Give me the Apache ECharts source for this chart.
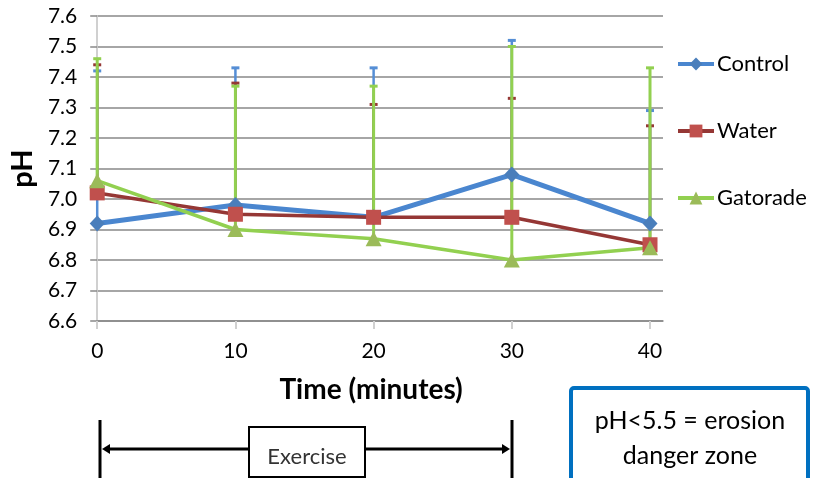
<!DOCTYPE html>
<html>
<head>
<meta charset="utf-8">
<script src="https://cdn.jsdelivr.net/npm/echarts@6/dist/echarts.min.js"></script>
<style>
html,body{margin:0;padding:0;background:#fff;}
#chart{width:815px;height:478px;}
</style>
</head>
<body>
<div id="chart"></div>
<script>
// ---- data ----
var times = [0, 10, 20, 30, 40];
var seriesNames = ['Control', 'Water', 'Gatorade'];
var controlPH = [6.92, 6.98, 6.94, 7.08, 6.92];
var waterPH = [7.02, 6.95, 6.94, 6.94, 6.85];
var gatoradePH = [7.06, 6.90, 6.87, 6.80, 6.84];
// upper end of error bars (mean + error)
var controlTop = [7.42, 7.43, 7.43, 7.52, 7.29];
var waterTop = [7.44, 7.38, 7.31, 7.33, 7.24];
var gatoradeTop = [7.46, 7.37, 7.37, 7.50, 7.43];
var yTicks = [6.6, 6.7, 6.8, 6.9, 7.0, 7.1, 7.2, 7.3, 7.4, 7.5, 7.6];
var xTicks = [0, 10, 20, 30, 40];

var FONT = 'Lato';
var means = [controlPH, waterPH, gatoradePH];
var tops = [controlTop, waterTop, gatoradeTop];
var lineColors = ['#4A86CF', '#953735', '#92D050'];
var markerColors = ['#4A7EBB', '#C0504D', '#9BBB59'];
var errColors = ['#558ED5', '#953735', '#92D050'];
var symbols = ['diamond', 'rect', 'triangle'];
var symbolSizes = [[15, 16], 15, [16, 15]];
var lineWidths = [5, 3.5, 3.5];

function pairs(arr) { return times.map(function (t, i) { return [t, arr[i]]; }); }

var series = [];
// error bars (drawn below lines)
means.forEach(function (m, s) {
  series.push({
    type: 'custom',
    z: 1,
    silent: true,
    data: times.map(function (t, i) { return [t, m[i], tops[s][i]]; }),
    renderItem: function (params, api) {
      var x = api.value(0);
      var p0 = api.coord([x, api.value(1)]);
      var p1 = api.coord([x, api.value(2)]);
      var st = { stroke: errColors[s], lineWidth: s === 2 ? 3 : 2.5 };
      return {
        type: 'group',
        children: [
          { type: 'line', shape: { x1: p0[0], y1: p0[1], x2: p1[0], y2: p1[1] }, style: st },
          { type: 'line', shape: { x1: p1[0] - 4, y1: p1[1], x2: p1[0] + 4, y2: p1[1] }, style: { stroke: errColors[s], lineWidth: 3 } }
        ]
      };
    }
  });
});
means.forEach(function (m, s) {
  series.push({
    name: seriesNames[s],
    type: 'line',
    z: 2,
    data: pairs(m),
    symbol: symbols[s],
    symbolSize: symbolSizes[s],
    showAllSymbol: true,
    lineStyle: { color: lineColors[s], width: lineWidths[s] },
    itemStyle: { color: markerColors[s], borderWidth: 0 },
    emphasis: { disabled: true },
    animation: false
  });
});

var graphics = [
  // left bar
  { type: 'line', shape: { x1: 100, y1: 420, x2: 100, y2: 478 }, style: { stroke: '#000', lineWidth: 3 } },
  // right bar
  { type: 'line', shape: { x1: 512, y1: 420, x2: 512, y2: 478 }, style: { stroke: '#000', lineWidth: 3 } },
  // arrow lines
  { type: 'line', shape: { x1: 106, y1: 449, x2: 249, y2: 449 }, style: { stroke: '#000', lineWidth: 3 } },
  { type: 'line', shape: { x1: 365, y1: 449, x2: 506, y2: 449 }, style: { stroke: '#000', lineWidth: 3 } },
  { type: 'polygon', shape: { points: [[102, 449], [110, 444], [110, 454]] }, style: { fill: '#000' } },
  { type: 'polygon', shape: { points: [[510, 449], [502, 444], [502, 454]] }, style: { fill: '#000' } },
  // Exercise box
  { type: 'rect', shape: { x: 249, y: 427, width: 116, height: 50 }, style: { fill: '#fff', stroke: '#000', lineWidth: 2 } },
  { type: 'text', x: 307, y: 457, style: { text: 'Exercise', font: '22px ' + FONT, fill: '#333', align: 'center', verticalAlign: 'middle' } },
  // erosion box
  { type: 'rect', shape: { x: 571, y: 388, width: 237, height: 100, r: 3 }, style: { fill: '#fff', stroke: '#0070C0', lineWidth: 4 } },
  { type: 'text', x: 690, y: 421, style: { text: 'pH<5.5 = erosion', font: '25px ' + FONT, fill: '#000', align: 'center', verticalAlign: 'middle' } },
  { type: 'text', x: 690, y: 456, style: { text: 'danger zone', font: '25px ' + FONT, fill: '#000', align: 'center', verticalAlign: 'middle' } }
];

var chart = echarts.init(document.getElementById('chart'), null, { renderer: 'canvas' });
chart.setOption({
  animation: false,
  backgroundColor: '#fff',
  textStyle: { fontFamily: FONT },
  grid: { left: 96, top: 16, right: 152, bottom: 157, containLabel: false },
  legend: {
    orient: 'vertical',
    left: 676,
    top: 53,
    padding: 0,
    itemWidth: 36,
    itemHeight: 16,
    itemGap: 45,
    data: seriesNames,
    lineStyle: { width: 4 },
    textStyle: { fontFamily: FONT, fontSize: 22, color: '#000', lineHeight: 22, padding: [0, 0, 0, -2] },
    selectedMode: false
  },
  xAxis: {
    type: 'value',
    min: 0,
    max: 40.94,
    interval: 10,
    name: 'Time (minutes)',
    nameLocation: 'middle',
    nameGap: 55,
    nameTextStyle: { fontFamily: FONT, fontSize: 28, fontWeight: 'bold', color: '#000', padding: [0, 18, 0, 0] },
    axisLine: { show: true, onZero: false, lineStyle: { color: '#898989', width: 1.5 } },
    axisTick: { show: true, length: 8, customValues: xTicks, lineStyle: { color: '#D0D0D0', width: 2 } },
    axisLabel: { customValues: xTicks, margin: 20, fontSize: 21, color: '#000', fontFamily: FONT,
      formatter: function (v) { return xTicks.indexOf(v) >= 0 ? String(v) : ''; } },
    splitLine: { show: false }
  },
  yAxis: {
    type: 'value',
    min: 6.6,
    max: 7.6,
    interval: 0.1,
    name: 'pH',
    nameLocation: 'middle',
    nameGap: 58,
    nameRotate: 90,
    nameTextStyle: { fontFamily: FONT, fontSize: 29, fontWeight: 'bold', color: '#000' },
    axisLine: { show: true, lineStyle: { color: '#D0D0D0', width: 2 } },
    axisTick: { show: true, length: 7, lineStyle: { color: '#898989', width: 1.5 } },
    axisLabel: { margin: 20, fontSize: 21, color: '#000', fontFamily: FONT,
      formatter: function (v) { return v.toFixed(1); } },
    splitLine: { show: true, lineStyle: { color: '#898989', width: 1.5 } }
  },
  series: series,
  graphic: graphics
});
</script>
</body>
</html>
